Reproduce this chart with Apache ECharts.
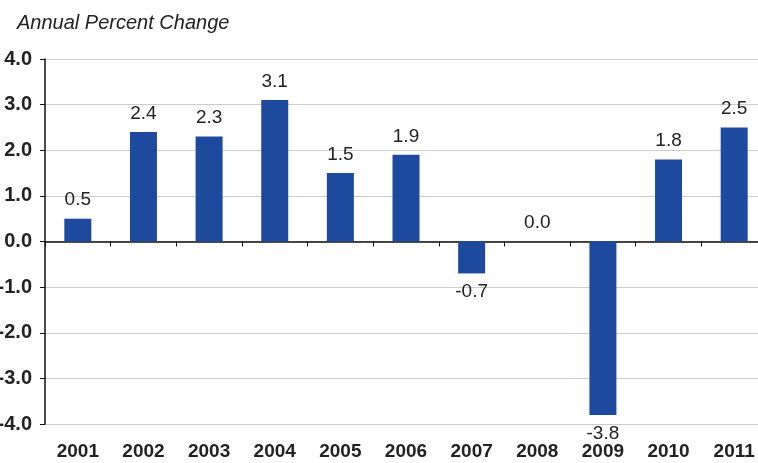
<!DOCTYPE html>
<html>
<head>
<meta charset="utf-8">
<script src="https://cdn.jsdelivr.net/npm/echarts@6/dist/echarts.min.js"></script>
<style>
  html, body { margin: 0; padding: 0; background: #fff; }
  #chart { width: 758px; height: 463px; }
</style>
</head>
<body>
<div id="chart"></div>
<script>
// Annual percent change by year
const years = ['2001', '2002', '2003', '2004', '2005', '2006', '2007', '2008', '2009', '2010', '2011'];
const changes = [0.5, 2.4, 2.3, 3.1, 1.5, 1.9, -0.7, 0.0, -3.8, 1.8, 2.5];
const yTicks = [-4, -3, -2, -1, 0, 1, 2, 3, 4];

const chart = echarts.init(document.getElementById('chart'));
const font = 'Liberation Sans, Arial, sans-serif';

chart.setOption({
  animation: false,
  backgroundColor: '#fff',
  title: {
    text: 'Annual Percent Change',
    left: 12,
    top: 8,
    textStyle: { fontFamily: font, fontSize: 20, fontStyle: 'italic', fontWeight: 'normal', color: '#222' }
  },
  // the last category runs slightly past the right edge of the canvas
  grid: { left: 45, width: 722, top: 59, bottom: 39, containLabel: false, outerBoundsMode: 'none' },
  xAxis: [
    {
      // axis line through zero, with ticks between categories
      type: 'category',
      data: years,
      position: 'bottom',
      axisLine: { onZero: true, lineStyle: { color: '#111', width: 1.5 } },
      axisTick: { show: true, alignWithLabel: false, length: 5, lineStyle: { color: '#111' } },
      axisLabel: { show: false },
      splitLine: { show: false }
    },
    {
      // year labels along the bottom edge
      type: 'category',
      data: years,
      position: 'bottom',
      axisLine: { show: false },
      axisTick: { show: false },
      axisLabel: { show: true, margin: 18, fontFamily: font, fontSize: 19, fontWeight: 'bold', color: '#222' },
      splitLine: { show: false }
    }
  ],
  yAxis: {
    type: 'value',
    min: yTicks[0],
    max: yTicks[yTicks.length - 1],
    interval: 1,
    axisLine: { show: true, lineStyle: { color: '#111', width: 1.5 } },
    axisTick: { show: true, length: 5, lineStyle: { color: '#111' } },
    axisLabel: {
      margin: 13,
      fontFamily: font, fontSize: 20, fontWeight: 'bold', color: '#222',
      formatter: v => v.toFixed(1)
    },
    splitLine: { show: true, lineStyle: { color: '#cccccc', width: 1 } }
  },
  series: [{
    type: 'bar',
    xAxisIndex: 0,
    barWidth: 27,
    itemStyle: { color: '#1d4a9e' },
    // labels sit above positive bars and below negative ones
    data: changes.map(v => ({
      value: v,
      label: { position: v < 0 ? 'bottom' : 'top' }
    })),
    label: {
      show: true,
      distance: 9,
      fontFamily: font,
      fontSize: 19,
      color: '#222',
      formatter: p => p.value.toFixed(1)
    }
  }]
});
</script>
</body>
</html>
